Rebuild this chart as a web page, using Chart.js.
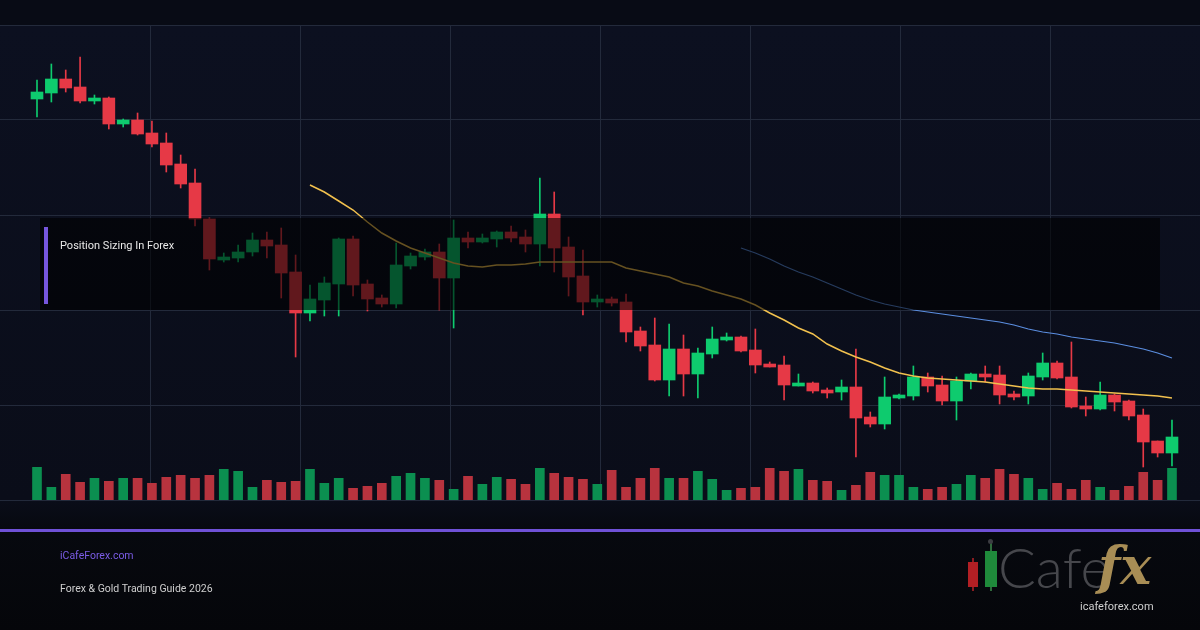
<!DOCTYPE html>
<html>
<head>
<meta charset="utf-8">
<script src="https://cdn.jsdelivr.net/npm/chart.js@4.4.1/dist/chart.umd.min.js"></script>
<style>
body{margin:0;background:#05060b}
#wrap{position:relative;width:1200px;height:630px;overflow:hidden;font-family:Roboto,sans-serif;
  background:linear-gradient(#080b15 0px,#080b15 25px,#0c1020 25px,#0a0d19 500px,#07090f 530px,#05060a 630px)}
#c{position:absolute;left:0;top:0}
.box{position:absolute;left:40px;top:218px;width:1120px;height:92px;background:rgba(0,0,0,0.58)}
.box .bar{position:absolute;left:4px;top:9px;width:4px;height:77px;background:#7656dd}
.box .t{position:absolute;left:20px;top:21px;color:#e8e8e8;font-size:11px}
.rule{position:absolute;left:0;top:529px;width:1200px;height:3px;background:#6f51d6}
.site{position:absolute;left:60px;top:549px;color:#7b5ce6;font-size:10.5px}
.guide{position:absolute;left:60px;top:582px;color:#cfcfcf;font-size:10.5px}
.logo div{position:absolute}
.lc{font-family:Lato,"Open Sans",sans-serif;font-weight:300;font-size:56px;color:#46474c;left:998px;top:533px;line-height:68px}
.fx{font-family:"DejaVu Serif",serif;font-weight:bold;font-style:italic;font-size:52px;color:#a88d55;left:1098px;top:536px;line-height:60px}
.lurl{left:1080px;top:600px;font-size:11px;color:#cfcfcf}
</style>
</head>
<body>
<div id="wrap">
  <canvas id="c" width="1200" height="630"></canvas>
  <div class="box"><div class="bar"></div><div class="t">Position Sizing In Forex</div></div>
  <div class="rule"></div>
  <div class="site">iCafeForex.com</div>
  <div class="guide">Forex &amp; Gold Trading Guide 2026</div>
  <div class="logo">
    <div style="left:972px;top:558px;width:1.5px;height:33px;background:#8a1c20"></div>
    <div style="left:968px;top:562px;width:10px;height:25px;background:#b21f24"></div>
    <div style="left:990px;top:542px;width:1.5px;height:49px;background:#2f6a3c"></div>
    <div style="left:988px;top:539px;width:5px;height:5px;border-radius:3px;background:#3c3d42"></div>
    <div style="left:985px;top:551px;width:12px;height:36px;background:#1f8a3b"></div>
    <div class="lc">Cafe</div>
    <div class="fx">fx</div>
    <div class="lurl">icafeforex.com</div>
  </div>
</div>
<script>
// one candle per session (price units are arbitrary)
const opens = [401,407,421,413,399,402,376,380,367,357,
  336,317,281,240,242,248,260,255,228,187,
  200,216,261,216,202,196,234,243,248,222,
  262,258,261,268,263,256,286,253,224,198,
  201,198,169,155,120,151,126,146,160,163,
  150,136,135,114,117,110,108,113,83,76,
  102,104,123,115,99,119,126,125,106,104,
  123,137,123,94,91,105,99,85,59,47]
const highs = [420,436,430,443,405,403,381,387,379,367,
  345,331,282,247,255,267,268,272,245,215,
  223,262,264,220,205,257,247,251,256,280,
  268,266,269,274,270,322,308,263,250,205,
  203,206,173,182,176,165,152,173,167,164,
  171,138,144,126,118,112,120,151,88,123,
  106,134,127,124,123,127,134,134,109,127,
  147,139,158,103,118,106,100,91,59,80]
const lows = [383,398,408,397,396,371,373,365,353,328,
  312,274,230,238,238,244,242,202,143,179,
  184,184,204,189,193,192,231,240,190,172,
  252,257,253,258,248,234,228,204,185,193,
  194,158,149,119,104,104,102,142,159,148,
  127,133,100,114,107,102,100,43,73,71,
  101,100,108,95,80,111,118,96,100,96,
  120,121,92,84,90,89,80,33,43,34]
const closes = [408,421,412,399,402,376,380,366,356,335,
  316,281,241,243,248,260,254,227,187,201,
  217,261,215,201,196,235,244,248,222,262,
  258,262,268,262,256,286,252,223,198,201,
  197,168,154,120,151,126,147,161,163,149,
  135,133,115,117,109,107,113,82,76,103,
  105,123,114,99,119,126,123,105,103,124,
  137,122,93,91,105,98,84,58,47,63]
const volumes = [327,127,257,177,217,187,217,217,167,227,
  247,217,247,307,287,127,197,177,187,307,
  167,217,117,137,167,237,267,217,197,107,
  237,157,227,207,157,317,267,227,207,157,
  297,127,217,317,217,217,287,207,97,117,
  127,317,287,307,197,187,97,147,277,247,
  247,127,107,127,157,247,217,307,257,217,
  107,167,107,197,127,97,137,277,197,317]
// moving averages as drawn: the yellow one starts at session 19, the blue one at session 49
const ma20Start = 19
const ma20 = [315,308,299,290,278,267,259,252,247,242,
  237,234,233,235,235,236,238,238,238,238,
  238,238,232,229,226,223,217,214,209,205,
  201,195,187,180,172,166,156,149,143,138,
  132,127,124,122,121,120,119,118,116,114,
  112,111,111,110,109,108,107,106,105,104,102]
const ma50Start = 49
const ma50 = [252,247,241,234,228,223,217,211,205,200,
  196,193,190,188,186,184,182,180,178,175,
  171,168,166,163,161,159,157,154,151,147,142]

const UP = '#0ecb6e', DOWN = '#e63946'
const UPV = '#0b8f50', DOWNV = '#b8333e'
const GRID = '#232a3b'
const isUp = i => closes[i] >= opens[i]

const bodies = opens.map((o, i) => ({x: i, y: [o, closes[i]]}))
const wicks = lows.map((l, i) => ({x: i, y: [l, highs[i]]}))
const vols = volumes.map((v, i) => ({x: i, y: v}))
const line20 = ma20.map((v, i) => ({x: i + ma20Start, y: v}))
const line50 = ma50.map((v, i) => ({x: i + ma50Start, y: v}))

new Chart(document.getElementById('c'), {
  type: 'bar',
  data: {
    datasets: [
      {type: 'line', data: line20, borderColor: '#f2c14e', borderWidth: 1.5, pointRadius: 0, fill: false, tension: 0},
      {type: 'line', data: line50, borderColor: '#5b8ee0', borderWidth: 1.2, pointRadius: 0, fill: false, tension: 0},
      {data: bodies, backgroundColor: opens.map((_, i) => isUp(i) ? UP : DOWN), barThickness: 12, grouped: false},
      {data: wicks, backgroundColor: opens.map((_, i) => isUp(i) ? UP : DOWN), barThickness: 1, grouped: false},
      {data: vols, yAxisID: 'yv', backgroundColor: opens.map((_, i) => isUp(i) ? UPV : DOWNV), barThickness: 9, grouped: false},
    ]
  },
  options: {
    responsive: false,
    animation: false,
    layout: {padding: {top: 25, bottom: 130, left: 0, right: 0}},
    plugins: {legend: {display: false}, tooltip: {enabled: false}},
    scales: {
      x: {type: 'linear', min: -2.575, max: 80.95, offset: false, grid: {offset: false}, display: false},
      xg: {
        type: 'linear', axis: 'x', position: 'bottom', min: 0, max: 1200, offset: false,
        ticks: {display: false, stepSize: 150},
        grid: {offset: false, color: c => (c.tick && (c.tick.value === 0 || c.tick.value === 1200)) ? 'rgba(0,0,0,0)' : GRID, drawTicks: false},
        border: {display: false}
      },
      y: {
        min: 0, max: 475,
        ticks: {display: false, stepSize: 95},
        grid: {color: GRID, drawTicks: false},
        border: {display: false}
      },
      yv: {min: 0, max: 4750, display: false}
    }
  }
})
</script>
</body>
</html>
